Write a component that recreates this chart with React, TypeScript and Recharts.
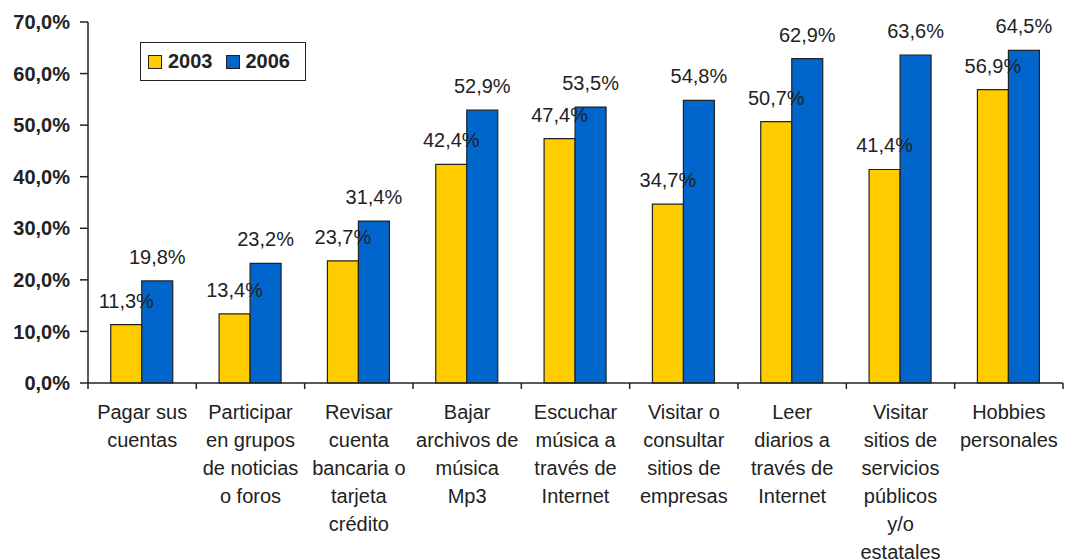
import React from "react";
import { BarChart, Bar, XAxis, YAxis, Legend, LabelList } from "recharts";

const categories: string[] = [
  "Pagar sus\ncuentas",
  "Participar\nen grupos\nde noticias\no foros",
  "Revisar\ncuenta\nbancaria o\ntarjeta\ncrédito",
  "Bajar\narchivos de\nmúsica\nMp3",
  "Escuchar\nmúsica a\ntravés de\nInternet",
  "Visitar o\nconsultar\nsitios de\nempresas",
  "Leer\ndiarios a\ntravés de\nInternet",
  "Visitar\nsitios de\nservicios\npúblicos\ny/o\nestatales",
  "Hobbies\npersonales",
];
const values2003: number[] = [11.3, 13.4, 23.7, 42.4, 47.4, 34.7, 50.7, 41.4, 56.9];
const values2006: number[] = [19.8, 23.2, 31.4, 52.9, 53.5, 54.8, 62.9, 63.6, 64.5];
const yTicks: number[] = [0, 10, 20, 30, 40, 50, 60, 70];
const seriesNames: string[] = ["2003", "2006"];

const data = categories.map((c, i) => ({ cat: c, y2003: values2003[i], y2006: values2006[i] }));

const W = 1066;
const H = 560;
const M = { top: 22, right: 3, left: 0, bottom: 0 };
const Y_W = 88;
const X_H = 177;
const PLOT_W = W - M.left - M.right - Y_W;
const CAT_W = PLOT_W / categories.length;
const FONT = "'Liberation Sans', Arial, sans-serif";
const YELLOW = "#FFCC00";
const BLUE = "#0066CC";
const AX = "#222";

const fmt = (v: number) => v.toFixed(1).replace(".", ",") + "%";

const CategoryTick = (props: any) => {
  const { x, y, payload, index } = props;
  const lines = String(payload.value).split("\n");
  const left = x - CAT_W / 2;
  const last = index === categories.length - 1;
  return (
    <g>
      <line x1={left} y1={y} x2={left} y2={y + 6} stroke={AX} strokeWidth={1.5} />
      {last && <line x1={x + CAT_W / 2} y1={y} x2={x + CAT_W / 2} y2={y + 6} stroke={AX} strokeWidth={1.5} />}
      <text x={x} y={y + 36} textAnchor="middle" fontSize={20} fill="#222" fontFamily={FONT}>
        {lines.map((l, i) => (
          <tspan key={i} x={x} dy={i === 0 ? 0 : 28}>
            {l}
          </tspan>
        ))}
      </text>
    </g>
  );
};

const ValueLabel = (props: any) => {
  const { x, y, width, value } = props;
  return (
    <text x={x + width / 2} y={y - 17} textAnchor="middle" fontSize={20} fill="#222" fontFamily={FONT}>
      {fmt(value)}
    </text>
  );
};

const LegendBox = () => (
  <div
    style={{
      width: 166,
      height: 39,
      border: "1.5px solid #222",
      background: "#fff",
      display: "flex",
      alignItems: "center",
      fontFamily: FONT,
      fontWeight: "bold",
      fontSize: 20,
      color: "#222",
      boxSizing: "border-box",
      paddingLeft: 7,
    }}
  >
    {[YELLOW, BLUE].map((c, i) => (
      <div key={i} style={{ display: "flex", alignItems: "center", marginRight: i === 0 ? 13 : 0 }}>
        <div style={{ width: 12, height: 12, background: c, border: "1px solid #222", marginRight: 6 }} />
        <span>{seriesNames[i]}</span>
      </div>
    ))}
  </div>
);

export default function App() {
  return (
    <div style={{ position: "absolute", left: 0, top: 0, width: W, height: H, background: "#fff" }}>
      <BarChart width={W} height={H} data={data} margin={M} barCategoryGap="21%" barGap={0}>
        <XAxis
          dataKey="cat"
          interval={0}
          height={X_H}
          tickSize={0}
          tickMargin={0}
          tick={<CategoryTick />}
          axisLine={{ stroke: AX, strokeWidth: 1.5 }}
          tickLine={false}
        />
        <XAxis xAxisId="top" dataKey="cat" orientation="top" height={0} tick={false} tickLine={false} axisLine={{ stroke: "#555", strokeWidth: 1.5 }} />
        <YAxis
          width={Y_W}
          domain={[0, 70]}
          ticks={yTicks}
          tickSize={8}
          tickMargin={10}
          tickFormatter={fmt}
          tick={{ fontSize: 20, fontWeight: "bold", fill: "#222", fontFamily: FONT }}
          axisLine={{ stroke: AX, strokeWidth: 1.5 }}
          tickLine={{ stroke: AX, strokeWidth: 1.5 }}
        />
        <YAxis yAxisId="right" orientation="right" width={0} domain={[0, 70]} tick={false} tickLine={false} axisLine={{ stroke: "#555", strokeWidth: 1.5 }} />
        <Legend
          verticalAlign="middle"
          align="center"
          layout="horizontal"
          wrapperStyle={{ left: 140, top: 42, width: 166, height: 39 }}
          content={() => <LegendBox />}
        />
        <Bar dataKey="y2003" name={seriesNames[0]} fill={YELLOW} stroke="#222" strokeWidth={1.2} isAnimationActive={false}>
          <LabelList dataKey="y2003" content={<ValueLabel />} />
        </Bar>
        <Bar dataKey="y2006" name={seriesNames[1]} fill={BLUE} stroke="#222" strokeWidth={1.2} isAnimationActive={false}>
          <LabelList dataKey="y2006" content={<ValueLabel />} />
        </Bar>
      </BarChart>
    </div>
  );
}
